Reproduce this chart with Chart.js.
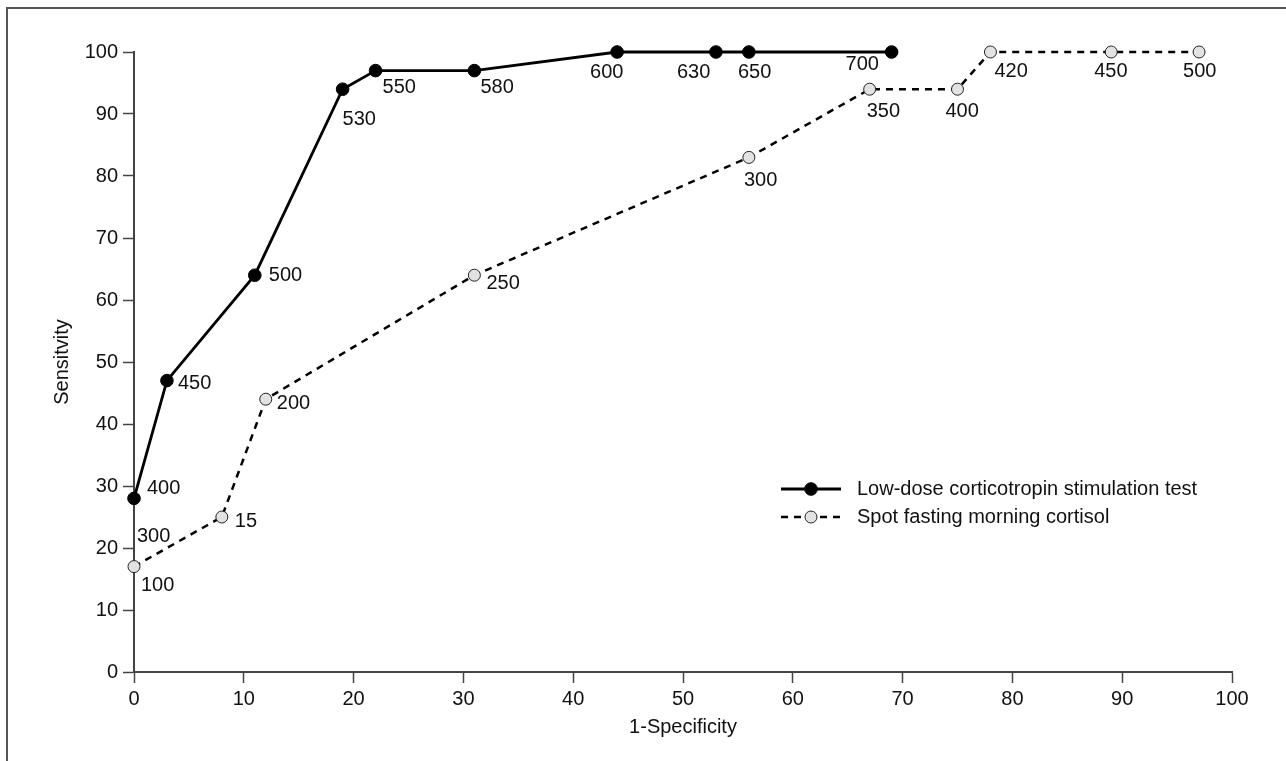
<!DOCTYPE html>
<html>
<head>
<meta charset="utf-8">
<script src="https://cdn.jsdelivr.net/npm/chart.js@4"></script>
<style>
  html,body{margin:0;padding:0;background:#fff}
  #wrap{position:relative;width:1286px;height:761px;overflow:hidden}
  #frame{position:absolute;left:6px;top:7px;right:-10px;bottom:-10px;border-top:2px solid #555;border-left:2px solid #555}
  #chartCanvas{position:absolute;left:0;top:0}
</style>
</head>
<body>
<div id="wrap"><div id="frame"></div><canvas id="chartCanvas" width="1286" height="761"></canvas></div>
<script>
// ROC curves, x = 1-specificity (%), y = sensitivity (%)
const xTicks = [0,10,20,30,40,50,60,70,80,90,100]
const yTicks = [0,10,20,30,40,50,60,70,80,90,100]

const lowDoseX = [0,3,11,19,22,31,44,53,56,69]
const lowDoseY = [28,47,64,94,97,97,100,100,100,100]
const lowDoseCut = ['400','450','500','530','550','580','600','630','650','700']

const spotX = [0,8,12,31,56,67,75,78,89,97]
const spotY = [17,25,44,64,83,94,94,100,100,100]
const spotCut = [['300','100'],'15','200','250','300','350','400','420','450','500']

// where each cut-off text sits relative to its point (px)
const lowDoseOff = [[13,-10],[11,3],[14,0],[0,30],[7,17],[6,17],[-27,20],[-39,20],[-11,20],[-46,12]]
const spotOff = [[[3,-30],[7,19]],[13,4],[11,4],[12,8],[-5,23],[-3,22],[-12,22],[4,19],[-17,19],[-16,19]]

const FONT = '"Liberation Sans", Arial, Helvetica, sans-serif'
const TXT = '#111'
const AXIS = '#444'

const toPts = (xs, ys)=> xs.map((x,i)=> ({x, y: ys[i]}))

const cutLabels = {
  id:'cutLabels',
  afterDatasetsDraw(chart){
    const ctx = chart.ctx
    ctx.save()
    ctx.font = '20px ' + FONT
    ctx.fillStyle = TXT
    ctx.textAlign = 'left'; ctx.textBaseline = 'middle'
    chart.data.datasets.forEach((ds, di)=>{
      chart.getDatasetMeta(di).data.forEach((pt, i)=>{
        const texts = [].concat(ds.cutoffs[i])
        const o = ds.labelOffsets[i]
        const offs = Array.isArray(o[0])? o: [o]
        texts.forEach((t, k)=> ctx.fillText(t, pt.x + offs[k][0], pt.y + offs[k][1]))
      })
    })
    ctx.restore()
  }
}

// legend drawn inside the plot area
const insideLegend = {
  id:'insideLegend',
  afterDraw(chart, args, opts){
    const ctx = chart.ctx
    ctx.save()
    chart.data.datasets.forEach((ds, i)=>{
      const y = opts.rows[i]
      ctx.strokeStyle = ds.borderColor; ctx.lineWidth = ds.borderWidth
      ctx.setLineDash(ds.borderDash || [])
      ctx.beginPath(); ctx.moveTo(opts.x, y); ctx.lineTo(opts.x + opts.len, y); ctx.stroke()
      ctx.setLineDash([])
      ctx.beginPath(); ctx.arc(opts.x + opts.len/2, y, ds.pointRadius, 0, Math.PI*2)
      ctx.fillStyle = ds.pointBackgroundColor; ctx.fill()
      ctx.lineWidth = ds.pointBorderWidth; ctx.strokeStyle = ds.pointBorderColor; ctx.stroke()
      ctx.font = '20px ' + FONT; ctx.fillStyle = TXT
      ctx.textAlign = 'left'; ctx.textBaseline = 'middle'
      ctx.fillText(ds.label, opts.textX, y)
    })
    ctx.restore()
  }
}

const ctx = document.getElementById('chartCanvas').getContext('2d')
new Chart(ctx, {
  type:'line',
  data:{
    datasets:[
      {label:'Low-dose corticotropin stimulation test', data: toPts(lowDoseX, lowDoseY),
       cutoffs: lowDoseCut, labelOffsets: lowDoseOff,
       borderColor:'#000', borderWidth:2.8, pointRadius:6.3, pointBackgroundColor:'#000',
       pointBorderColor:'#000', pointBorderWidth:1, tension:0, clip:false},
      {label:'Spot fasting morning cortisol', data: toPts(spotX, spotY),
       cutoffs: spotCut, labelOffsets: spotOff,
       borderColor:'#000', borderWidth:2.5, borderDash:[7,6], pointRadius:6, pointBackgroundColor:'#e2e2e2',
       pointBorderColor:'#222', pointBorderWidth:1, tension:0, clip:false}
    ]
  },
  options:{
    responsive:false, animation:false, devicePixelRatio:1,
    layout:{padding:{top:52, right:54, left:0, bottom:0}},
    plugins:{
      legend:{display:false}, tooltip:{enabled:false},
      insideLegend:{x:781, len:60, textX:857, rows:[489,517]}
    },
    scales:{
      x:{
        type:'linear', min:0, max:100,
        afterBuildTicks: s=> { s.ticks = xTicks.map(v=> ({value:v})) },
        afterFit: s=> { s.height = 89 },
        ticks:{font:{family:FONT, size:20}, color:TXT, padding:4, maxRotation:0, autoSkip:false},
        grid:{drawOnChartArea:false, drawTicks:true, tickLength:11, tickWidth:1.5, tickColor:AXIS},
        border:{color:AXIS, width:2},
        title:{display:true, text:'1-Specificity', font:{family:FONT, size:20}, color:TXT, padding:{top:4, bottom:22}}
      },
      y:{
        type:'linear', min:0, max:100,
        afterBuildTicks: s=> { s.ticks = yTicks.map(v=> ({value:v})) },
        afterFit: s=> { s.width = 134 },
        ticks:{font:{family:FONT, size:20}, color:TXT, padding:5},
        grid:{drawOnChartArea:false, drawTicks:true, tickLength:11, tickWidth:1.5, tickColor:AXIS},
        border:{color:AXIS, width:2},
        title:{display:true, text:'Sensitvity', font:{family:FONT, size:20}, color:TXT, padding:{top:50, bottom:0}}
      }
    }
  },
  plugins:[cutLabels, insideLegend]
})
</script>
</body>
</html>
